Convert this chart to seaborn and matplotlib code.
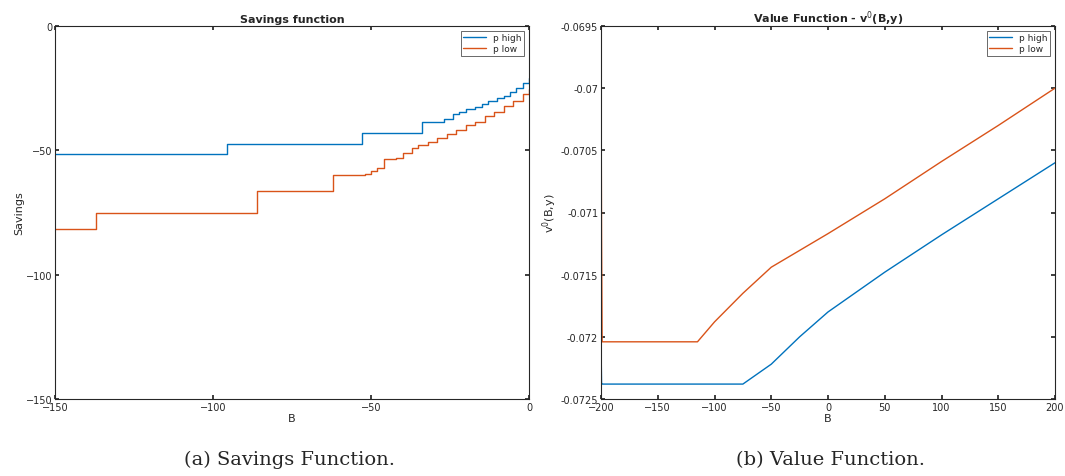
import numpy as np
import matplotlib
matplotlib.use("Agg")
import matplotlib.pyplot as plt
import seaborn as sns

# savings function staircase (B, savings), step-post
sav_hi_b = [-150, -95.5, -53, -34, -27, -24, -22, -20, -17, -15, -13, -10, -8, -6, -4, -2, 0]
sav_hi_v = [-51.3, -47.5, -43, -38.5, -37.5, -35.5, -34.5, -33.5, -32.5, -31.5, -30, -29, -28, -26.5, -25, -23, -21]
sav_lo_b = [-150, -137, -86, -62, -52, -50, -48, -46, -42, -40, -37, -35, -32, -29, -26, -23, -20, -17, -14, -11, -8, -5, -2, 0]
sav_lo_v = [-81.5, -75, -66.5, -60, -59.5, -58.5, -57, -53.5, -53, -51, -49, -48, -46.5, -45, -43.5, -42, -40, -38.5, -36, -34.5, -32, -30, -27.5, -25.5]

# value function (B, v0)
val_hi_b = [-200, -199.5, -199, -75, -50, -25, 0, 50, 100, 150, 200]
val_hi_v = [-0.07205, -0.07238, -0.07238, -0.07238, -0.07222, -0.07200, -0.07180, -0.07148, -0.07118, -0.07089, -0.0706]
val_lo_b = [-200, -199.5, -199, -115, -100, -75, -50, 0, 50, 100, 150, 200]
val_lo_v = [-0.06986, -0.0712, -0.07204, -0.07204, -0.07188, -0.07165, -0.07144, -0.07117, -0.07089, -0.07059, -0.0703, -0.0700]

blue = "#0072BD"
red = "#D95319"

sns.set_theme(style="white")
plt.rcParams["font.family"] = ["DejaVu Sans"]

fig = plt.figure(figsize=(10.65, 4.77), dpi=100)
ax1 = fig.add_axes([55/1065, 77/477, 474/1065, 373/477])
ax2 = fig.add_axes([601/1065, 77/477, 454/1065, 373/477])

ax1.step(sav_hi_b, sav_hi_v, where="post", color=blue, lw=1, label="p high")
ax1.step(sav_lo_b, sav_lo_v, where="post", color=red, lw=1, label="p low")
ax1.set_xlim(-150, 0)
ax1.set_ylim(-150, 0)
ax1.set_xticks([-150, -100, -50, 0])
ax1.set_yticks([-150, -100, -50, 0])
ax1.set_title("Savings function", fontsize=8, fontweight="bold", pad=3)
ax1.set_xlabel("B", fontsize=8, labelpad=1)
ax1.set_ylabel("Savings", fontsize=8, labelpad=1)

sns.lineplot(x=val_hi_b, y=val_hi_v, ax=ax2, color=blue, lw=1, label="p high")
sns.lineplot(x=val_lo_b, y=val_lo_v, ax=ax2, color=red, lw=1, label="p low")
ax2.set_xlim(-200, 200)
ax2.set_ylim(-0.0725, -0.0695)
ax2.set_xticks(range(-200, 201, 50))
ax2.set_yticks(np.arange(-0.0725, -0.06949, 0.0005))
ax2.set_yticklabels(["-0.0725", "-0.072", "-0.0715", "-0.071", "-0.0705", "-0.07", "-0.0695"])
ax2.set_title("Value Function - v$^0$(B,y)", fontsize=8, fontweight="bold", pad=3)
ax2.set_xlabel("B", fontsize=8, labelpad=1)
ax2.set_ylabel("v$^0$(B,y)", fontsize=8, labelpad=1)

for ax in (ax1, ax2):
    ax.tick_params(labelsize=7, direction="in", length=3, left=True, bottom=True, top=True, right=True, pad=2)
    for s in ax.spines.values():
        s.set_color("#262626")
        s.set_linewidth(0.8)
    leg = ax.legend(loc="upper right", fontsize=6.5, frameon=True, fancybox=False,
                    edgecolor="#262626", handlelength=2.5, borderpad=0.3, labelspacing=0.2)
    leg.get_frame().set_linewidth(0.6)

fig.text(290/1065, 12/477, "(a) Savings Function.", ha="center", fontsize=14, family="DejaVu Serif")
fig.text(830/1065, 12/477, "(b) Value Function.", ha="center", fontsize=14, family="DejaVu Serif")

fig.savefig("out.png", dpi=100)
